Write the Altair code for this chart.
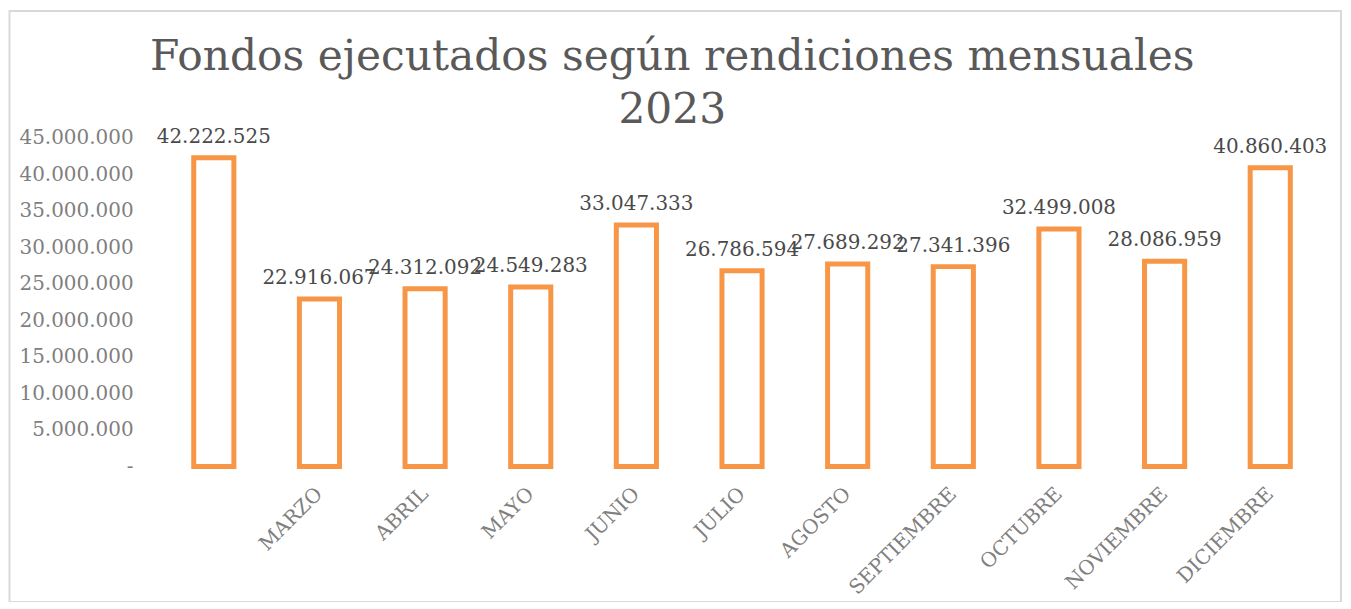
import altair as alt
import pandas as pd

months = [" ", "MARZO", "ABRIL", "MAYO", "JUNIO", "JULIO", "AGOSTO",
          "SEPTIEMBRE", "OCTUBRE", "NOVIEMBRE", "DICIEMBRE"]
values = [42222525, 22916067, 24312092, 24549283, 33047333, 26786594,
          27689292, 27341396, 32499008, 28086959, 40860403]
y_ticks = [0, 5000000, 10000000, 15000000, 20000000, 25000000,
           30000000, 35000000, 40000000, 45000000]
title_lines = ["Fondos ejecutados según rendiciones mensuales", "2023"]

df = pd.DataFrame({"mes": months, "monto": values})

FONT = "DejaVu Serif"
ORANGE = "#F79646"
W, H = 1166, 330

x_enc = alt.X("mes:N", sort=months, title=None,
              scale=alt.Scale(paddingInner=0.62, paddingOuter=0.31),
              axis=alt.Axis(labelAngle=-45, labelAlign="right", labelBaseline="middle",
                            labelPadding=24, ticks=False, domain=False, labelOverlap=False,
                            labelFont=FONT, labelFontSize=20, labelColor="#7f7f7f"))
y_enc = alt.Y("monto:Q", title=None,
              scale=alt.Scale(domain=[0, 45000000], nice=False),
              axis=alt.Axis(values=y_ticks, grid=False, ticks=False, domain=False,
                            labelOverlap=False, labelSeparation=0,
                            labelPadding=28, labelFont=FONT, labelFontSize=20,
                            labelColor="#7f7f7f",
                            labelExpr="datum.value == 0 ? '-' : replace(format(datum.value, ',d'), regexp(',', 'g'), '.')"))

base = alt.Chart(df)

bars = base.mark_bar(filled=False, stroke=ORANGE, strokeWidth=5).encode(x=x_enc, y=y_enc)

labels = base.transform_calculate(
    lab="replace(format(datum.monto, ',d'), regexp(',', 'g'), '.')"
).mark_text(font=FONT, fontSize=20, color="#4a4a4a", baseline="alphabetic", dy=-15).encode(
    x=x_enc,
    y=y_enc,
    text="lab:N",
)

frame = alt.Chart(pd.DataFrame({"k": [0]})).mark_rect(
    filled=False, stroke="#d9d9d9", strokeWidth=2
).encode(
    x=alt.value(-152), x2=alt.value(W + 18),
    y=alt.value(-127), y2=alt.value(H + 136),
)

chart = alt.layer(frame, bars, labels).properties(
    width=W, height=H,
    title=alt.TitleParams(text=title_lines, font=FONT, fontSize=42.5, fontWeight="normal",
                          color="#595959", anchor="middle", frame="group", dx=-70,
                          offset=-122, lineHeight=53),
    autosize=alt.AutoSizeParams(type="none"),
    padding={"left": 153.5, "top": 129, "right": 20, "bottom": 135},
).configure(background="white").configure_view(stroke=None)

chart.save("out.html", embed_options={"renderer": "svg", "actions": False})
